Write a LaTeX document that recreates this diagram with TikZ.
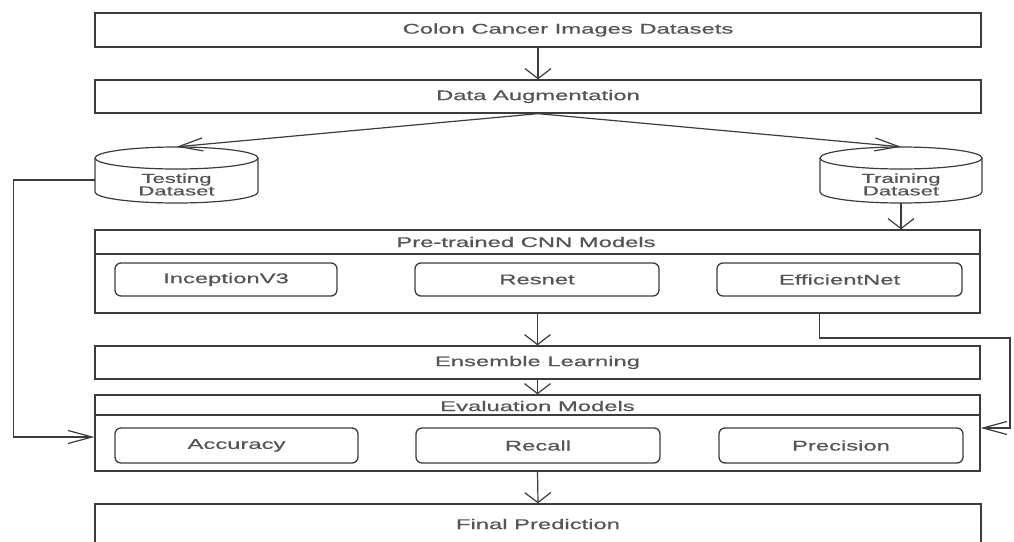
\documentclass[tikz,border=0pt]{standalone}
\usepackage{fontspec}
\setmainfont{Liberation Sans}[FakeBold=0.5]
\usepackage{graphicx}
\usetikzlibrary{arrows.meta,calc}
\newcommand{\sx}[1]{\scalebox{1.7}[1]{#1}}
\definecolor{ln}{RGB}{60,60,60}
\definecolor{tx}{RGB}{85,85,85}
\begin{document}
\begin{tikzpicture}[x=1pt,y=-1pt,
  every node/.style={text=tx, font=\fontsize{14}{16}\selectfont},
  box/.style={draw=ln, line width=1.3pt, fill=white, inner sep=0pt, anchor=center},
  rbox/.style={box, rounded corners=6pt},
  varrow/.style={draw=ln, line width=1.2pt, -{Straight Barb[length=10pt,width=26pt]}},
  harrow/.style={draw=ln, line width=1.2pt, -{Straight Barb[length=24pt,width=13pt]}},
  conn/.style={draw=ln, line width=1.2pt},
  lbl/.style={inner sep=0pt}
]
\clip (0,0) rectangle (1014,541);
\fill[white] (0,0) rectangle (1014,541);

% top boxes
\node[box, minimum width=886pt, minimum height=34pt] (ds) at (538,30) {};
\node[lbl] (dstxt) at (568,30) {\sx{Colon Cancer Images Datasets}};
\node[box, minimum width=886pt, minimum height=33pt] (aug) at (538,96.5) {\sx{Data Augmentation}};

% cylinders
\node[lbl, minimum width=163pt, minimum height=56pt] (test) at (176.5,175) {};
\draw[conn, fill=white] (95,158) -- (95,192) arc[start angle=180,end angle=0,x radius=81.5,y radius=11] -- (258,158);
\draw[conn, fill=white] (176.5,158) ellipse [x radius=81.5, y radius=11];
\node[lbl, align=center, font=\fontsize{13}{12.5}\selectfont] (testtxt) at (176.5,184.5) {\sx{Testing}\\\sx{Dataset}};

\node[lbl, minimum width=162pt, minimum height=56pt] (train) at (901,175) {};
\draw[conn, fill=white] (820,158) -- (820,192) arc[start angle=180,end angle=0,x radius=81,y radius=11] -- (982,158);
\draw[conn, fill=white] (901,158) ellipse [x radius=81, y radius=11];
\node[lbl, align=center, font=\fontsize{13}{12.5}\selectfont] (traintxt) at (901,184.5) {\sx{Training}\\\sx{Dataset}};

% pre-trained container
\node[box, minimum width=885pt, minimum height=83pt] (pre) at (537.5,271.5) {};
\draw[conn] (pre.west |- 0,254) -- (pre.east |- 0,254);
\node[lbl] (pretitle) at (526,242) {\sx{Pre-trained CNN Models}};
\node[rbox, minimum width=222pt, minimum height=33pt] (inc) at (226,279.5) {\sx{InceptionV3}};
\node[rbox, minimum width=244pt, minimum height=33pt] (res) at (537,279.5) {\sx{Resnet}};
\node[rbox, minimum width=245pt, minimum height=33pt] (eff) at (839.5,279.5) {\sx{EfficientNet}};

% ensemble
\node[box, minimum width=885pt, minimum height=33pt] (ens) at (537.5,362.5) {\sx{Ensemble Learning}};

% evaluation container
\node[box, minimum width=885pt, minimum height=76pt] (eval) at (537.5,433) {};
\draw[conn] (eval.west |- 0,415) -- (eval.east |- 0,415);
\node[lbl] (evaltitle) at (537.5,406) {\sx{Evaluation Models}};
\node[rbox, minimum width=243pt, minimum height=35pt] (acc) at (236.5,445.5) {\sx{Accuracy}};
\node[rbox, minimum width=244pt, minimum height=35pt] (rec) at (538,445.5) {\sx{Recall}};
\node[rbox, minimum width=244pt, minimum height=35pt] (prec) at (841,445.5) {\sx{Precision}};

% final
\node[box, minimum width=886pt, minimum height=56pt] (final) at (538,532) {};
\node[lbl] (finaltxt) at (538,524) {\sx{Final Prediction}};

% connectors
\draw[varrow] (ds.south) -- (aug.north);
\draw[harrow] (aug.south) -- (test.north);
\draw[harrow] (aug.south) -- (train.north);
\draw[varrow] (train.south) -- (train.south |- pre.north);
\draw[varrow] (pre.south) -- (ens.north);
\draw[varrow] (ens.south) -- (eval.north);
\draw[varrow] (eval.south) -- (final.north);
\draw[harrow] ([yshift=-5pt]test.west) -- ++(-81,0) |- ([yshift=-4pt]eval.west);
\coordinate (rc) at (1010,338);
\draw[harrow] (train.west |- pre.south) |- (rc) |- ([yshift=5pt]eval.east);
\end{tikzpicture}
\end{document}
